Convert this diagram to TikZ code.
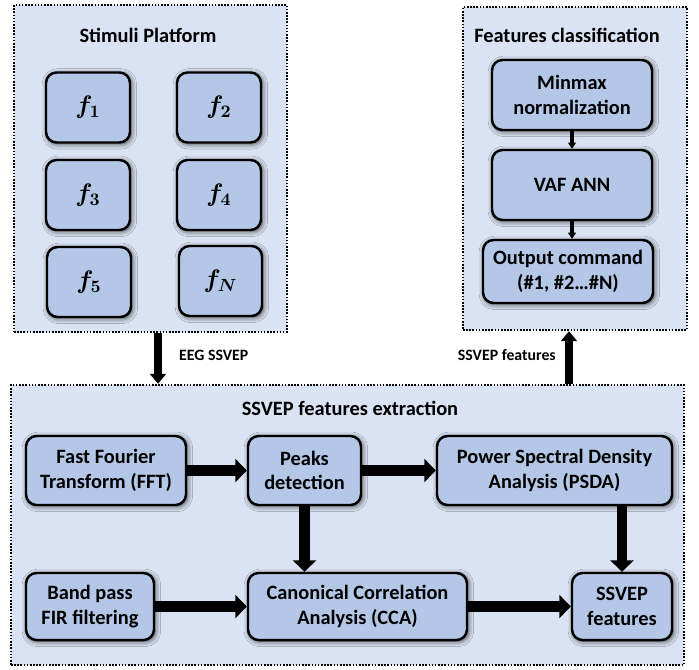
\documentclass[tikz,border=0pt]{standalone}
\usepackage{amsmath, bm}
\usepackage{fontspec}
\setmainfont{Carlito}
\usetikzlibrary{arrows.meta, positioning, shadows.blur}
\definecolor{panelblue}{RGB}{218, 227, 243}
\definecolor{boxblue}{RGB}{180, 199, 231}

\tikzset{
  panel/.style={draw, fill=panelblue, line width=1.3pt, dash pattern=on 0.9pt off 0.9pt},
  paneltitle/.style={font=\fontsize{11.6}{13}\selectfont\bfseries},
  stage/.style={draw, fill=boxblue, line width=1.4pt, rounded corners=6pt, align=center,
    inner sep=2pt, font=\fontsize{11.6}{14}\selectfont\bfseries,
    blur shadow={shadow xshift=0.8pt, shadow yshift=-0.8pt, shadow blur radius=3pt, shadow opacity=75}},
  freqbox/.style={stage, minimum width=1.68cm, minimum height=1.4cm, font=\fontsize{14}{16}\selectfont},
  fatarrow/.style={line width=6pt, -{Triangle[width=13pt, length=6.5pt]}},
  linkarrow/.style={line width=4pt, -{Triangle[width=9pt, length=5.7pt]}},
  thinarrow/.style={line width=2pt, -{Triangle[width=4.5pt, length=3.5pt]}},
  linklabel/.style={font=\fontsize{9}{11}\selectfont\bfseries}
}

\begin{document}
\begin{tikzpicture}
  \useasboundingbox (0,0) rectangle (13.98,-13.38);

  % Stimuli platform
  \node[panel, minimum width=5.46cm, minimum height=6.54cm] (stim) at (3.01,-3.37) {};
  \node[paneltitle] (stimtitle) at (2.96,-0.70) {Stimuli Platform};
  \node[freqbox] (f1) at (1.76,-2.15) {$\bm{f_1}$};
  \node[freqbox] (f2) at (4.38,-2.15) {$\bm{f_2}$};
  \node[freqbox] (f3) at (1.76,-3.90) {$\bm{f_3}$};
  \node[freqbox] (f4) at (4.38,-3.90) {$\bm{f_4}$};
  \node[freqbox] (f5) at (1.78,-5.64) {$\bm{f_5}$};
  \node[freqbox, minimum width=1.66cm] (fN) at (4.41,-5.62) {$\bm{f_N}$};

  % Features classification
  \node[panel, minimum width=4.48cm, minimum height=6.46cm] (cls) at (11.50,-3.37) {};
  \node[paneltitle] (clstitle) at (11.34,-0.70) {Features classification};
  \node[stage, minimum width=3.2cm, minimum height=1.4cm] (minmax) at (11.44,-1.90) {Minmax\\normalization};
  \node[stage, minimum width=3.2cm, minimum height=1.4cm] (vaf) at (11.44,-3.70) {VAF ANN};
  \node[stage, minimum width=3.4cm, minimum height=1.26cm] (out) at (11.36,-5.43) {Output command\\(\#1, \#2\ldots\#N)};
  \draw[thinarrow] (minmax) -- (vaf);
  \draw[thinarrow] (vaf) -- (vaf |- out.north);

  % SSVEP features extraction
  \node[panel, minimum width=13.46cm, minimum height=5.6cm] (extr) at (6.95,-10.50) {};
  \node[paneltitle] (extrtitle) at (7.00,-8.16) {SSVEP features extraction};
  \node[stage, minimum width=3.2cm, minimum height=1.38cm] (fft) at (2.12,-9.41) {Fast Fourier\\Transform (FFT)};
  \node[stage, minimum width=2.26cm, minimum height=1.38cm] (peaks) at (6.09,-9.41) {Peaks\\detection};
  \node[stage, minimum width=4.7cm, minimum height=1.38cm] (psda) at (11.09,-9.41) {Power Spectral Density\\Analysis (PSDA)};
  \node[stage, minimum width=2.56cm, minimum height=1.34cm] (fir) at (1.80,-12.13) {Band pass\\FIR filtering};
  \node[stage, minimum width=4.38cm, minimum height=1.34cm] (cca) at (7.15,-12.13) {Canonical Correlation\\Analysis (CCA)};
  \node[stage, minimum width=2.0cm, minimum height=1.34cm] (feat) at (12.44,-12.13) {SSVEP\\features};
  \draw[fatarrow] (fft) -- (peaks);
  \draw[fatarrow] (peaks) -- (psda);
  \draw[fatarrow] (peaks) -- (peaks |- cca.north);
  \draw[fatarrow] (feat |- psda.south) -- (feat);
  \draw[fatarrow] (fir) -- (cca);
  \draw[fatarrow] (cca) -- (feat);

  % Links between panels
  \coordinate (eegx) at (3.16,0);
  \coordinate (featx) at (11.38,0);
  \draw[linkarrow] (stim.south -| eegx) -- (extr.north -| eegx);
  \draw[linkarrow] (extr.north -| featx) -- (cls.south -| featx);
  \node[linklabel, anchor=west] (eeglabel) at (3.46,-7.10) {EEG SSVEP};
  \node[linklabel, anchor=east] (featlabel) at (11.24,-7.10) {SSVEP features};
\end{tikzpicture}
\end{document}
